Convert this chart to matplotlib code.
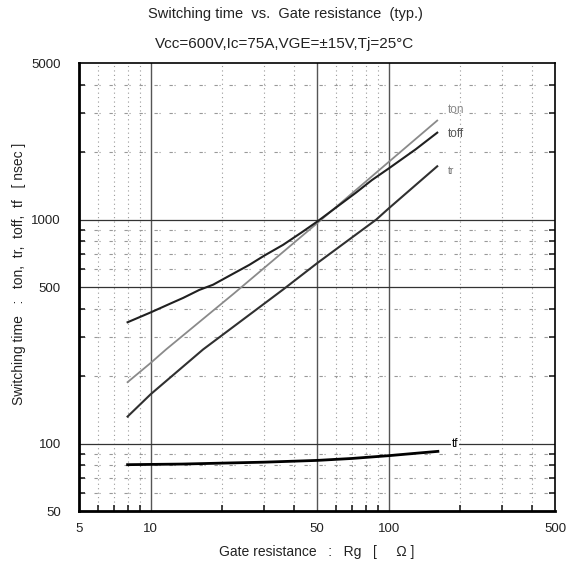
import matplotlib
matplotlib.use("Agg")
import matplotlib.pyplot as plt
from matplotlib.ticker import FixedLocator, NullFormatter, FixedFormatter

plt.rcParams['font.family'] = ['Liberation Sans', 'DejaVu Sans']

# Data (Rg in ohm, times in nsec)
rg_ton = [8, 10, 11.6, 22.5, 50, 100, 160]
ton = [188, 229, 263, 470, 962, 1807, 2767]

rg_toff = [8, 10, 12, 13.7, 16, 18.3, 22, 26, 30, 36, 43, 50, 60, 73, 85, 100, 130, 160]
toff = [348, 385, 420, 447, 485, 512, 570, 628, 690, 771, 875, 978, 1130, 1320, 1500, 1690, 2060, 2443]

rg_tr = [8, 10, 16.6, 36, 50, 88.7, 100, 160]
tr = [132, 166, 263, 487, 638, 1000, 1121, 1729]

rg_tf = [8, 13.5, 20, 30, 50, 70, 100, 130, 161]
tf = [80.5, 81, 81.8, 82.6, 84.1, 85.8, 88.3, 90.5, 92.3]

x_ticks = [5, 10, 50, 100, 500]
y_ticks = [50, 100, 500, 1000, 5000]
x_major_grid = [10, 50, 100]
y_major_grid = [100, 500, 1000]
x_minor = [6, 7, 8, 9, 20, 30, 40, 60, 70, 80, 90, 200, 300, 400]
y_minor = [60, 70, 80, 90, 200, 300, 400, 600, 700, 800, 900, 2000, 3000, 4000]

fig = plt.figure(figsize=(5.67, 5.64), dpi=100)
ax = fig.add_axes([79/567, 1 - 511/564, (555 - 79)/567, (511 - 63)/564])
ax.set_xscale('log')
ax.set_yscale('log')
ax.set_xlim(5, 500)
ax.set_ylim(50, 5000)

for v in x_minor:
    ax.axvline(v, color='#999999', lw=0.8, ls=(0, (1, 3)), zorder=1)
for v in y_minor:
    ax.axhline(v, color='#999999', lw=0.8, ls=(0, (3, 1.5, 1, 8)), zorder=1)
for v in x_major_grid:
    ax.axvline(v, color='#555555', lw=1.0, zorder=1)
for v in y_major_grid:
    ax.axhline(v, color='#333333', lw=0.9, zorder=1)

ax.plot(rg_ton, ton, color='#8a8a8a', lw=1.3, zorder=3)
ax.plot(rg_toff, toff, color='#202020', lw=1.5, zorder=3)
ax.plot(rg_tr, tr, color='#303030', lw=1.5, zorder=3)
ax.plot(rg_tf, tf, color='black', lw=2.0, zorder=3)

ax.text(178, 3080, 'ton', color='#888888', fontsize=8.5, ha='left', va='center')
ax.text(178, 2400, 'toff', color='#555555', fontsize=8.5, ha='left', va='center')
ax.text(178, 1650, 'tr', color='#777777', fontsize=7.5, ha='left', va='center')
ax.text(190, 100, 'tf', color='black', fontsize=8.5, ha='center', va='center',
        bbox=dict(facecolor='white', edgecolor='none', pad=0.8), zorder=4)

ax.xaxis.set_major_locator(FixedLocator(x_ticks))
ax.xaxis.set_major_formatter(FixedFormatter([str(v) for v in x_ticks]))
ax.yaxis.set_major_locator(FixedLocator(y_ticks))
ax.yaxis.set_major_formatter(FixedFormatter([str(v) for v in y_ticks]))
ax.xaxis.set_minor_locator(FixedLocator(x_minor))
ax.yaxis.set_minor_locator(FixedLocator(y_minor))
ax.xaxis.set_minor_formatter(NullFormatter())
ax.yaxis.set_minor_formatter(NullFormatter())
ax.tick_params(which='both', direction='in', top=False, right=True, labelsize=9.5,
               colors='#222222')
ax.tick_params(axis='y', pad=13)
ax.tick_params(axis='x', pad=9)
ax.tick_params(which='major', length=0)
ax.tick_params(which='minor', length=4, width=1.2)

for s in ['left', 'bottom']:
    ax.spines[s].set_linewidth(2.0)
for s in ['top', 'right']:
    ax.spines[s].set_linewidth(1.2)

ax.set_xlabel('Gate resistance   :   Rg   [     \u03a9 ]', fontsize=10, labelpad=7,
              color='#222222')
ax.set_ylabel('Switching time   :   ton,  tr,  toff,  tf   [ nsec ]', fontsize=10,
              color='#222222')
ax.yaxis.set_label_coords(-0.112, 0.53)

fig.text(285/567, 1 - 14/564, 'Switching time  vs.  Gate resistance  (typ.)',
         ha='center', va='center', fontsize=10.5, color='#222222')
fig.text(285/567, 1 - 44/564, 'Vcc=600V,Ic=75A,VGE=\u00b115V,Tj=25\u00b0C',
         ha='center', va='center', fontsize=11, color='#222222')

fig.savefig('out.png', dpi=100)
